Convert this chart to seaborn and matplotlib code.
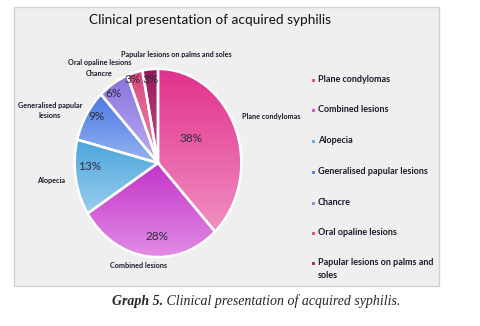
import numpy as np
import matplotlib
matplotlib.use("Agg")
import matplotlib.pyplot as plt
import seaborn as sns
from matplotlib.colors import LinearSegmentedColormap
from matplotlib.patches import Rectangle

# ---- data ----
categories = ["Plane condylomas", "Combined lesions", "Alopecia",
              "Generalised papular lesions", "Chancre", "Oral opaline lesions",
              "Papular lesions on palms and soles"]
values = [38, 28, 13, 9, 6, 3, 3]
slice_labels = ["Plane condylomas", "Combined lesions", "Alopecia",
                "Generalised papular\nlesions", "Chancre", "Oral opaline lesions",
                "Papular lesions on palms and soles"]
legend_labels = ["Plane condylomas", "Combined lesions", "Alopecia",
                 "Generalised papular lesions", "Chancre", "Oral opaline lesions",
                 "Papular lesions on palms and\nsoles"]
title = "Clinical presentation of acquired syphilis"
caption_bold = "Graph 5."
caption_rest = " Clinical presentation of acquired syphilis."

# ---- style ----
top_colors = ["#e1318d", "#c133c7", "#4aa5dc", "#4a78e1", "#8a72dc", "#d8457c", "#98195a"]
bot_colors = ["#f190c2", "#e28ce6", "#9acdee", "#96b4f2", "#bbaef1", "#ea8fb2", "#c1508a"]
mid_colors = ["#e8509e", "#cf55d5", "#62b2e2", "#5e88e6", "#9a86e4", "#e05a88", "#a8286a"]

sns.set_theme(style="white")
plt.rcParams["font.family"] = ["Lato", "DejaVu Sans"]

W, H = 480, 326
fig = plt.figure(figsize=(4.8, 3.26), dpi=100)
fig.patch.set_facecolor("white")

def fx(x):
    return x / W

def fy(y):
    return 1 - y / H

# chart box
fig.patches.append(Rectangle((fx(14), fy(286)), fx(439) - fx(14), fy(7) - fy(286),
                             transform=fig.transFigure, facecolor="#efefef",
                             edgecolor="#d2d2d2", linewidth=1.0, zorder=-5))

fig.text(fx(210), fy(20), title, ha="center", va="center", fontsize=9.8,
         color="#111111")

# pie
cx, cy, rx, ry = 158, 163, 85, 96
ax = fig.add_axes([fx(cx - rx), fy(cy + ry), 2 * rx / W, 2 * ry / H])
ax.set_zorder(2)
ax.patch.set_visible(False)
wedges, _ = ax.pie(values, startangle=90, counterclock=False, radius=1,
                   wedgeprops=dict(edgecolor="white", linewidth=1.8),
                   colors=mid_colors)
ax.set_aspect("auto")
ax.axis("off")

grad = np.linspace(0, 1, 256).reshape(-1, 1)
for w, ct, cb in zip(wedges, top_colors, bot_colors):
    ext = w.get_path().get_extents()
    cmap = LinearSegmentedColormap.from_list("g", [ct, cb])
    im = ax.imshow(grad, cmap=cmap, aspect="auto",
                   extent=(ext.x0, ext.x1, ext.y0, ext.y1), origin="upper",
                   zorder=0.5, interpolation="bilinear")
    im.set_clip_path(w)
    w.set_facecolor("none")
    w.set_zorder(1)
ax.set_aspect("auto")
ax.set_xlim(-1.02, 1.02)
ax.set_ylim(-1.02, 1.02)

# percentage labels (layout positions, normalised pie coords)
pct_pos = [(0.40, 0.26), (-0.01, -0.78), (-0.82, -0.04), (-0.74, 0.49),
           (-0.53, 0.74), (-0.30, 0.89), (-0.09, 0.89)]
for v, (px, py) in zip(values, pct_pos):
    ax.text(px, py, f"{v}%", ha="center", va="center", fontsize=8.5,
            color="#2b2b3a", zorder=3)

# category labels (figure pixel layout)
lab_pos = [(242, 117, "left"), (138, 265, "center"), (51, 181, "center"),
           (50, 110, "center"), (99, 74, "center"), (100, 63, "center"),
           (176, 55, "center")]
for lab, (x, y, ha) in zip(slice_labels, lab_pos):
    fig.text(fx(x), fy(y), lab, ha=ha, va="center", fontsize=5.2,
             fontweight="bold", color="#1a1a2a", linespacing=1.5)

# legend
leg_y = [80, 110, 141, 172, 203, 233, 263]
for lab, c, y in zip(legend_labels, mid_colors, leg_y):
    fig.patches.append(Rectangle((fx(311.5), fy(y + 1.5)), 3 / W, 3 / H,
                                 transform=fig.transFigure, facecolor=c,
                                 edgecolor="none"))
    fig.text(fx(318), fy(y - 5), lab, ha="left", va="top", fontsize=6.5,
             fontweight="bold", color="#1a1a2a", linespacing=1.6)

# caption
t1 = fig.text(fx(112), fy(301), caption_bold, ha="left", va="center", fontsize=10,
              family="Liberation Serif", style="italic", fontweight="bold")
fig.canvas.draw()
bb = t1.get_window_extent(renderer=fig.canvas.get_renderer())
fig.text(bb.x1 / W, fy(301), caption_rest,
         ha="left", va="center", fontsize=10, family="Liberation Serif",
         style="italic")

fig.savefig("out.png", dpi=100, facecolor="white")
